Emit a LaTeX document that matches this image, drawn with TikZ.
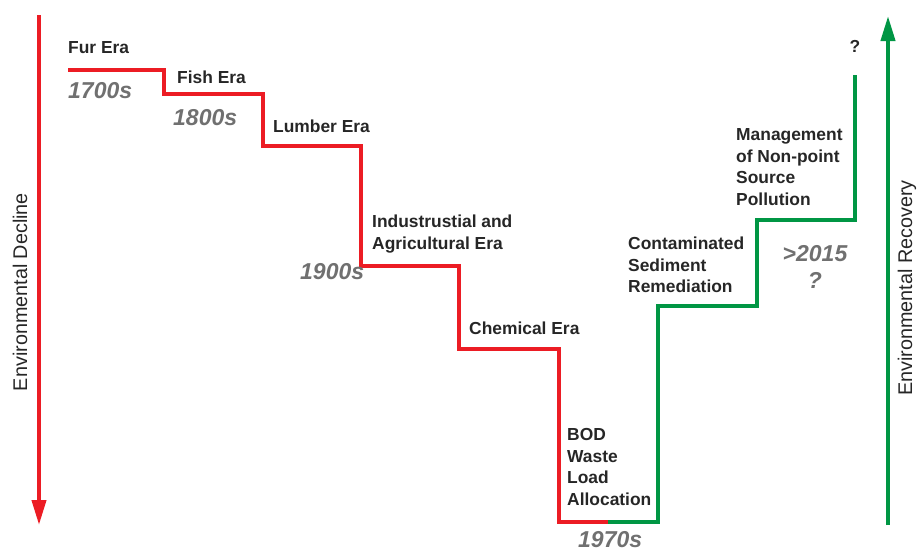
\documentclass[tikz,border=0pt]{standalone}
\usepackage{fontspec}
\setmainfont{Liberation Sans}
\usepackage{tikz}
\usetikzlibrary{arrows.meta}
\usetikzlibrary{positioning}
\definecolor{stepred}{RGB}{236,28,36}
\definecolor{stepgreen}{RGB}{0,150,68}
\definecolor{yeargray}{RGB}{112,112,112}
\pgfkeys{tikz/eralabel/.style={anchor=west,inner sep=0pt,align=left,text=black!85,font=\fontsize{17.4}{21.5}\selectfont\bfseries}}
\pgfkeys{tikz/yearlabel/.style={anchor=west,inner sep=0pt,align=center,text=yeargray,font=\fontsize{23}{27}\selectfont\bfseries\itshape}}
\pgfkeys{tikz/axislabel/.style={rotate=90,inner sep=0pt,text=black!85,font=\fontsize{19.8}{22}\selectfont}}
\pgfkeys{tikz/steppath/.style={line width=4pt,line join=miter}}

\begin{document}
\begin{tikzpicture}[x=1pt,y=-1pt,>={Triangle[width=14pt,length=25pt]}]
    \useasboundingbox (0,0) rectangle (917,552);
    % corners of the staircase
    \coordinate (c0) at (68,70);
    \coordinate (c1) at (164,70);
    \coordinate (c2) at (164,94);
    \coordinate (c3) at (263,94);
    \coordinate (c4) at (263,146);
    \coordinate (c5) at (361,146);
    \coordinate (c6) at (361,266);
    \coordinate (c7) at (459,266);
    \coordinate (c8) at (459,349);
    \coordinate (c9) at (559,349);
    \coordinate (c10) at (559,522);
    \coordinate (cmid) at (608,522);
    \coordinate (c11) at (658,522);
    \coordinate (c12) at (658,306);
    \coordinate (c13) at (757,306);
    \coordinate (c14) at (757,220);
    \coordinate (c15) at (855,220);
    \coordinate (c16) at (855,75);
    \draw[steppath,stepred] (c0) -- (c1) -- (c2) -- (c3) -- (c4) -- (c5) -- (c6)
        -- (c7) -- (c8) -- (c9) -- (c10) -- (cmid);
    \draw[steppath,stepgreen] (cmid) -- (c11) -- (c12) -- (c13) -- (c14) -- (c15) -- (c16);

    \coordinate (decltop) at (39,15);
    \coordinate (declbot) at (39,525);
    \draw[->,line width=4pt,stepred] (decltop) -- (declbot);
    \coordinate (recbot) at (888,525);
    \coordinate (rectop) at (888,16);
    \draw[->,line width=4pt,stepgreen] (recbot) -- (rectop);
    \node[axislabel] (decline) at (20,292) {Environmental Decline};
    \node[axislabel] (recovery) at (907,288) {Environmental Recovery};

    \node[eralabel] (fur) at (68,48) {Fur Era};
    \node[eralabel] (fish) at (177,77) {Fish Era};
    \node[eralabel] (lumber) at (273,126) {Lumber Era};
    \node[eralabel] (indus) at (372,234) {Industrustial and\\Agricultural Era};
    \node[eralabel] (chem) at (469,328) {Chemical Era};
    \node[eralabel] (bod) at (567,467) {BOD\\Waste\\Load\\Allocation};
    \node[eralabel] (sediment) at (628,265) {Contaminated\\Sediment\\Remediation};
    \node[eralabel] (nonpoint) at (736,167) {Management\\of Non-point\\Source\\Pollution};
    \node[eralabel,anchor=south,above=22pt of c16] (future) {?};

    \node[yearlabel] (y1700) at (68,91) {1700s};
    \node[yearlabel] (y1800) at (173,118) {1800s};
    \node[yearlabel] (y1900) at (300,272) {1900s};
    \node[yearlabel] (y1970) at (578,540) {1970s};
    \node[yearlabel,anchor=center] (y2015) at (815,267) {>2015\\?};
\end{tikzpicture}
\end{document}
